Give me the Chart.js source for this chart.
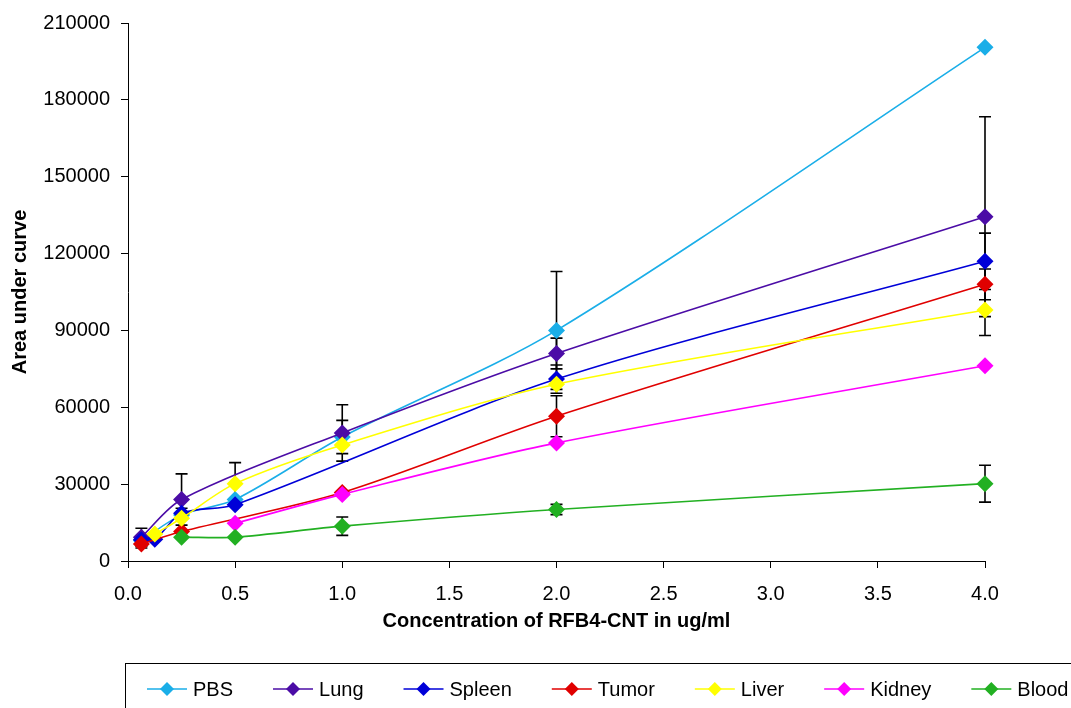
<!DOCTYPE html>
<html>
<head>
<meta charset="utf-8">
<script src="https://cdn.jsdelivr.net/npm/chart.js@4.4.0/dist/chart.umd.min.js"></script>
<style>
  html, body { margin: 0; padding: 0; background: #fff; }
  canvas { display: block; }
</style>
</head>
<body>
<canvas id="auc" width="1071" height="708"></canvas>
<script>
/* Área sob a curva vs concentração de RFB4-CNT, por tecido. */

const FONT = '"Liberation Sans", Arial, sans-serif';

// x: concentração (ug/ml); null = sem ponto nessa concentração
const concentrations = [0.0625, 0.125, 0.25, 0.5, 1, 2, 4];

const pbs    = [8000,  null,  18000, 24000, 48400, 90000, 200500];
const lung   = [9300,  null,  24000, null,  50000, 81000, 134400];
const spleen = [8300,  8500,  18600, 22000, null,  71000, 117000];
const tumor  = [6600,  null,  11500, null,  26700, 56500, 108000];
const liver  = [null,  10500, 16700, 30200, 45300, 69000, 98000];
const kidney = [null,  null,  null,  14700, 26000, 46100, 76200];
const blood  = [null,  null,  9300,  9300,  13600, 20100, 30200];

// barras de erro (±)
const pbsErr    = [0,    0, 0,     0,    6500,  23000, 0];
const lungErr   = [3500, 0, 10000, 0,    11000, 6000,  39000];
const spleenErr = [0,    0, 2000,  0,    0,     5500,  11000];
const tumorErr  = [1500, 0, 0,     0,    0,     8000,  6000];
const liverErr  = [0,    0, 0,     8200, 0,     0,     10000];
const kidneyErr = [0,    0, 0,     0,    0,     0,     0];
const bloodErr  = [0,    0, 0,     0,    3600,  2000,  7200];

const series = [
  { label: 'PBS',    values: pbs,    errors: pbsErr,    color: '#1AAEE8' },
  { label: 'Lung',   values: lung,   errors: lungErr,   color: '#4B0CA6' },
  { label: 'Spleen', values: spleen, errors: spleenErr, color: '#0000D8' },
  { label: 'Tumor',  values: tumor,  errors: tumorErr,  color: '#E00000' },
  { label: 'Liver',  values: liver,  errors: liverErr,  color: '#FFFF00' },
  { label: 'Kidney', values: kidney, errors: kidneyErr, color: '#FF00FF' },
  { label: 'Blood',  values: blood,  errors: bloodErr,  color: '#22B022' },
];

/* Barras de erro desenhadas antes das séries (marcadores ficam por cima). */
const errorBarPlugin = {
  id: 'errorBars',
  beforeDatasetsDraw(chart) {
    const { ctx, scales: { x, y } } = chart;
    ctx.save();
    ctx.strokeStyle = '#000';
    ctx.lineWidth = 1.6;
    series.forEach(s => {
      concentrations.forEach((c, i) => {
        const v = s.values[i], e = s.errors[i];
        if (v == null || !e) return;
        const px = x.getPixelForValue(c);
        const top = y.getPixelForValue(v + e);
        const bot = y.getPixelForValue(v - e);
        ctx.beginPath();
        ctx.moveTo(px, top); ctx.lineTo(px, bot);
        ctx.moveTo(px - 6, top); ctx.lineTo(px + 6, top);
        ctx.moveTo(px - 6, bot); ctx.lineTo(px + 6, bot);
        ctx.stroke();
      });
    });
    ctx.restore();
  },
};

/* Legenda em caixa, na base (estilo Excel). */
const boxLegendPlugin = {
  id: 'boxLegend',
  afterDraw(chart) {
    const { ctx, width } = chart;
    const boxTop = 663.5, boxLeft = 125.5, cy = 689;
    ctx.save();
    ctx.strokeStyle = '#000';
    ctx.lineWidth = 1;
    ctx.strokeRect(boxLeft, boxTop, width - boxLeft + 10, 80);

    ctx.font = '20px ' + FONT;
    ctx.textBaseline = 'middle';
    ctx.textAlign = 'left';
    let x = 147;
    series.forEach(s => {
      ctx.strokeStyle = s.color;
      ctx.lineWidth = 1.5;
      ctx.beginPath();
      ctx.moveTo(x, cy); ctx.lineTo(x + 40, cy);
      ctx.stroke();
      const mx = x + 20, r = 7;
      ctx.fillStyle = s.color;
      ctx.beginPath();
      ctx.moveTo(mx, cy - r); ctx.lineTo(mx + r, cy);
      ctx.lineTo(mx, cy + r); ctx.lineTo(mx - r, cy);
      ctx.closePath();
      ctx.fill();
      ctx.fillStyle = '#000';
      ctx.fillText(s.label, x + 46, cy + 1);
      x += 46 + ctx.measureText(s.label).width + 40;
    });
    ctx.restore();
  },
};

const datasets = series.map((s, i) => ({
  label: s.label,
  data: concentrations
    .map((c, k) => ({ x: c, y: s.values[k] }))
    .filter(p => p.y != null),
  borderColor: s.color,
  backgroundColor: s.color,
  borderWidth: 1.6,
  pointStyle: 'rectRot',
  pointRadius: 8.5,
  pointBorderWidth: 0,
  pointBackgroundColor: s.color,
  tension: 0.3,
  fill: false,
  clip: false,
  order: series.length - i,
}));

const axisTick = { color: '#000', font: { family: FONT, size: 20 } };

new Chart(document.getElementById('auc').getContext('2d'), {
  type: 'line',
  data: { datasets },
  plugins: [errorBarPlugin, boxLegendPlugin],
  options: {
    responsive: false,
    animation: false,
    layout: { padding: { top: 19, right: 86, bottom: 0, left: 0 } },
    scales: {
      x: {
        type: 'linear',
        min: 0, max: 4,
        afterFit: sc => { sc.height = 147; },
        ticks: { ...axisTick, stepSize: 0.5, padding: 14, maxRotation: 0, autoSkip: false,
                 callback: v => v.toFixed(1) },
        grid: { drawOnChartArea: false, drawTicks: true, tickLength: 7, color: '#000' },
        border: { color: '#000', width: 1 },
        title: {
          display: true,
          text: 'Concentration of RFB4-CNT in ug/ml',
          color: '#000',
          font: { family: FONT, size: 20, weight: 'bold' },
          padding: { top: 0, bottom: 75 },
        },
      },
      y: {
        min: 0, max: 210000,
        afterFit: sc => { sc.width = 128; },
        ticks: { ...axisTick, stepSize: 30000, padding: 11, callback: v => String(v) },
        grid: { drawOnChartArea: false, drawTicks: true, tickLength: 7, color: '#000' },
        border: { color: '#000', width: 1 },
        title: {
          display: true,
          text: 'Area under curve',
          color: '#000',
          font: { family: FONT, size: 20, weight: 'bold' },
          padding: { top: 8, bottom: 0 },
        },
      },
    },
    plugins: {
      legend: { display: false },
      tooltip: { enabled: false },
    },
  },
});
</script>
</body>
</html>
